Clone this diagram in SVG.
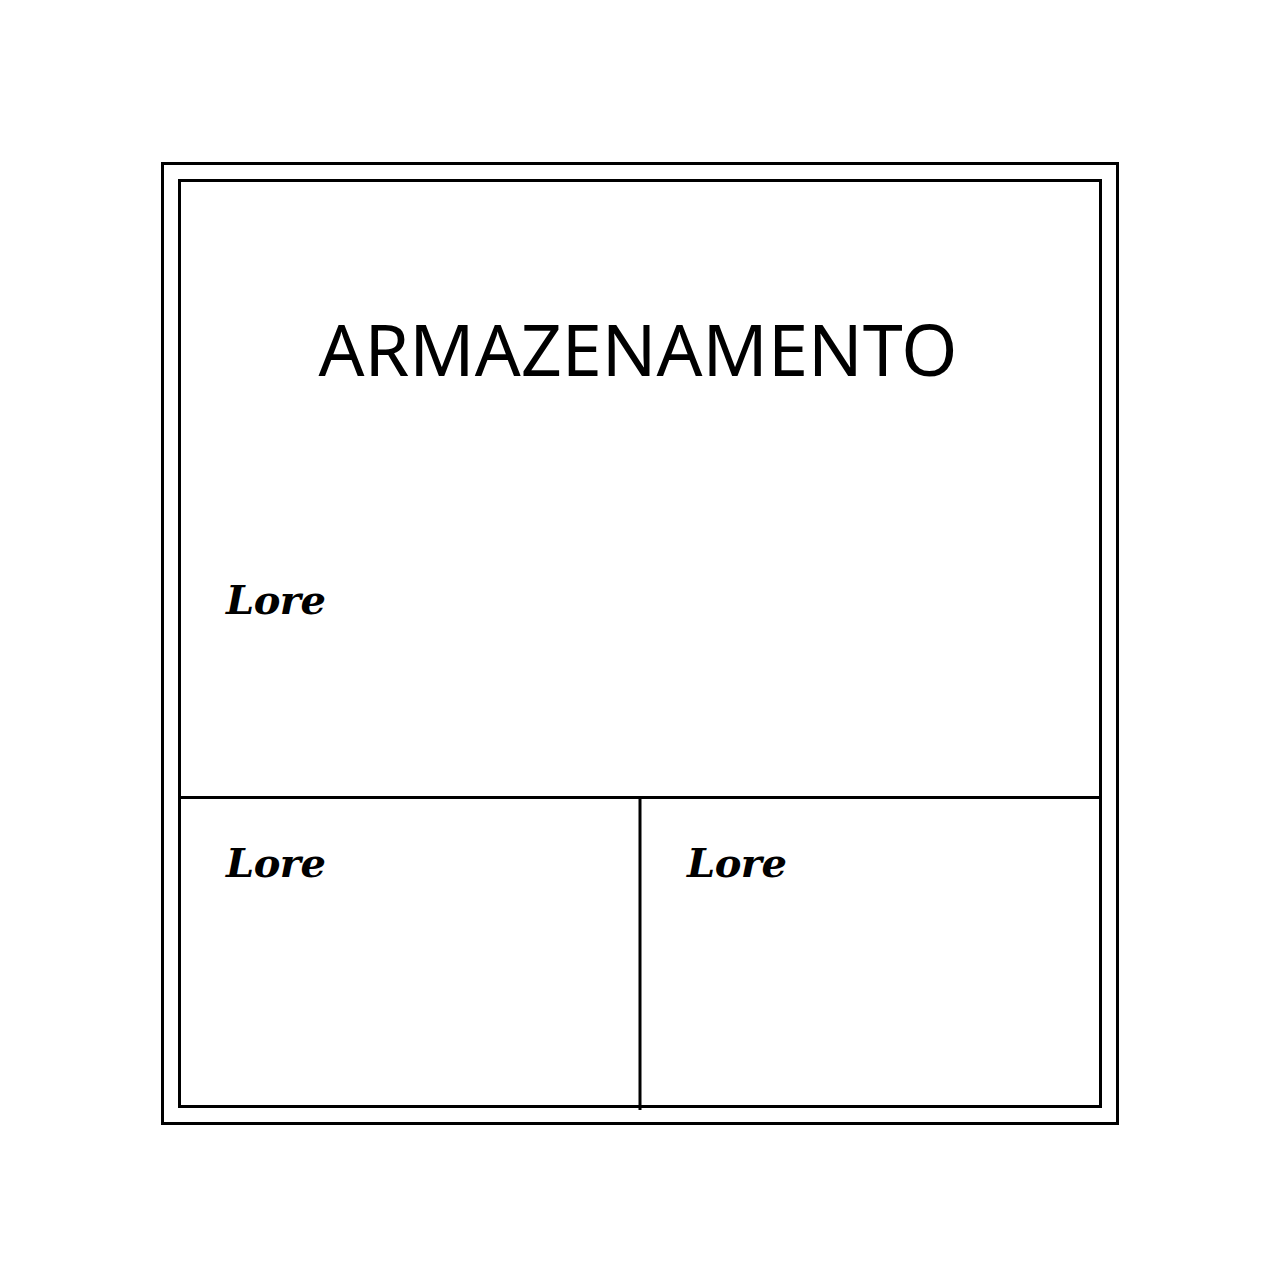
<svg xmlns="http://www.w3.org/2000/svg" width="1280" height="1280" viewBox="0 0 1280 1280">
<style>
.ln{fill:none;stroke:#000;stroke-width:3}
.t{font-family:"Noto Sans","Open Sans",sans-serif;font-size:72px;fill:#000}
.l{font-family:"DejaVu Serif",serif;font-weight:bold;font-style:italic;font-size:40px;fill:#000;letter-spacing:-0.5px}
</style>
<rect width="1280" height="1280" fill="#fff"/>
<g id="outer"><rect class="ln" x="162.5" y="163.5" width="955" height="960"/></g>
<g id="main"><rect class="ln" x="179.5" y="180.5" width="921" height="926"/>
<text class="t" x="638" y="376" text-anchor="middle">ARMAZENAMENTO</text>
<text class="l" x="226" y="614">Lore</text></g>
<g id="connectors">
<line class="ln" x1="179" y1="797.5" x2="1101" y2="797.5"/>
<line class="ln" x1="640" y1="797" x2="640" y2="1110"/>
</g>
<g id="left"><text class="l" x="226" y="877">Lore</text></g>
<g id="right"><text class="l" x="687" y="877">Lore</text></g>
</svg>
